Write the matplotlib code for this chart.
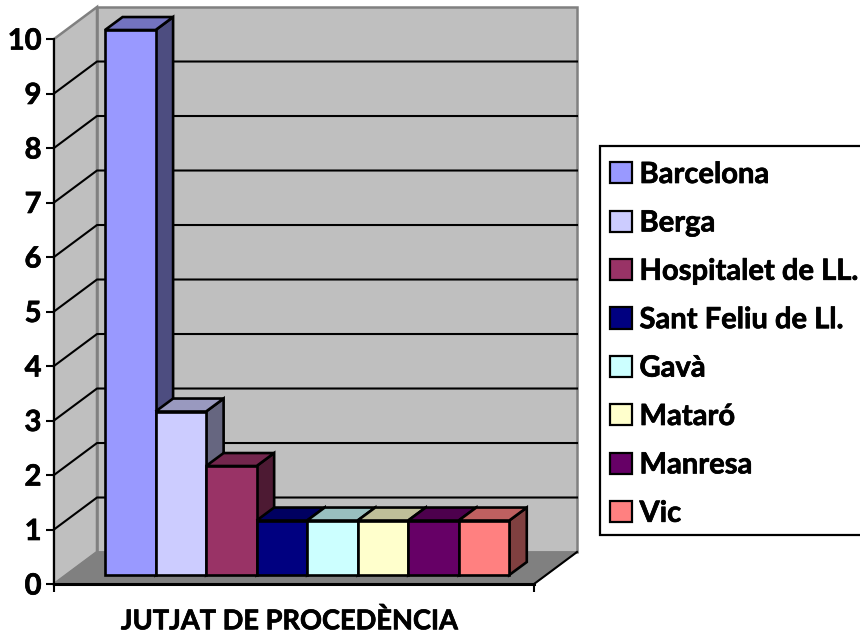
import matplotlib
matplotlib.use('Agg')
import matplotlib.pyplot as plt
import matplotlib.patheffects as pe
from matplotlib.patches import Polygon, Patch, Rectangle

plt.rcParams['font.family'] = ['Lato', 'DejaVu Sans']

courts = ['Barcelona', 'Berga', 'Hospitalet de LL.', 'Sant Feliu de Ll.',
          'Gavà', 'Mataró', 'Manresa', 'Vic']
counts = [10, 3, 2, 1, 1, 1, 1, 1]
colors = ['#9999FF', '#CCCCFF', '#993366', '#000080',
          '#CCFFFF', '#FFFFCC', '#660066', '#FF8080']
y_ticks = list(range(11))

W, H = 860, 636
FONT = 21
TITLE_FONT = 19.6

# oblique depth of the chart box and of the bars, in data units
wall_dx, wall_dy = 0.851, 0.587
bar_dx, bar_dy = 0.347, 0.238
bar_x0, bar_y0 = 1.01, 0.165

# thickens Lato Bold a little towards the reference's heavier look
heavy = [pe.withStroke(linewidth=0.5, foreground='black')]


def shade(color, k):
    rgb = matplotlib.colors.to_rgb(color)
    return tuple(c * k for c in rgb)


fig = plt.figure(figsize=(W / 100, H / 100), dpi=100)
ax = fig.add_axes([54 / W, 1 - 584 / H, 480 / W, 545 / H])
n_slots = 9.5
ax.set_xlim(0, n_slots)
ax.set_ylim(0, 10)
ax.patch.set_visible(False)

# walls and floor
ax.add_patch(Polygon([(wall_dx, wall_dy), (n_slots + wall_dx, wall_dy),
                      (n_slots + wall_dx, 10 + wall_dy), (wall_dx, 10 + wall_dy)],
                     fc='#BFBFBF', ec='#808080', lw=1.8, clip_on=False, zorder=1))
ax.add_patch(Polygon([(0, 0), (wall_dx, wall_dy), (wall_dx, 10 + wall_dy), (0, 10)],
                     fc='#BFBFBF', ec='#808080', lw=1.8, clip_on=False, zorder=1))
ax.add_patch(Polygon([(0, 0), (n_slots, 0), (n_slots + wall_dx, wall_dy), (wall_dx, wall_dy)],
                     fc='#808080', ec='#808080', lw=1, clip_on=False, zorder=1.1))
ax.plot([n_slots, n_slots + wall_dx], [0, wall_dy], color='black', lw=1.5,
        clip_on=False, zorder=1.2)

# gridlines on left and back walls
for v in y_ticks[1:-1]:
    ax.plot([0, wall_dx, n_slots + wall_dx], [v, v + wall_dy, v + wall_dy],
            color='black', lw=1.5, clip_on=False, zorder=1.2)

# bars, left to right so each one covers the side of the previous one
for i, (val, col) in enumerate(zip(counts, colors)):
    x0 = bar_x0 + i
    x1 = x0 + 1
    b = bar_y0
    t = bar_y0 + val
    kw = dict(ec='black', lw=1.9, joinstyle='miter', clip_on=False, zorder=2 + i * 0.01)
    ax.add_patch(Polygon([(x1, b), (x1 + bar_dx, b + bar_dy), (x1 + bar_dx, t + bar_dy), (x1, t)],
                         fc=shade(col, 0.5), **kw))
    ax.add_patch(Polygon([(x0, t), (x1, t), (x1 + bar_dx, t + bar_dy), (x0 + bar_dx, t + bar_dy)],
                         fc=shade(col, 0.75), **kw))
    ax.add_patch(Polygon([(x0, b), (x1, b), (x1, t), (x0, t)], fc=col, **kw))

for s in ['top', 'right']:
    ax.spines[s].set_visible(False)
ax.spines['left'].set_linewidth(1.5)
ax.spines['bottom'].set_linewidth(2.2)
ax.spines['left'].set_zorder(3)
ax.spines['bottom'].set_zorder(3)

ax.set_yticks(y_ticks)
ax.set_xticks([0, n_slots])
ax.set_xticklabels([])
ax.tick_params(axis='both', length=5.5, width=1.5, color='black')
ax.tick_params(axis='y', labelsize=FONT, pad=3.5)
for lab in ax.get_yticklabels():
    lab.set_fontweight('bold')
    lab.set_path_effects(heavy)
xlab = ax.set_xlabel('JUTJAT DE PROCEDÈNCIA', fontsize=TITLE_FONT, fontweight='bold',
                     labelpad=8.5, x=0.491)
xlab.set_path_effects(heavy)

# legend frame runs off the right edge of the picture, as in the reference
fig.add_artist(Rectangle((600 / W, 1 - 535 / H), 300 / W, 389 / H, transform=fig.transFigure,
                         fc='white', ec='black', lw=1.6, clip_on=False))
handles = [Patch(fc=c, ec='black', lw=1.6, label=l) for c, l in zip(colors, courts)]
leg = fig.legend(handles=handles, loc='upper left', bbox_to_anchor=(610 / W, 1 - 162 / H),
                 borderaxespad=0, borderpad=0, frameon=False,
                 prop={'size': FONT, 'weight': 'bold'}, labelspacing=0.768, handlelength=0.74,
                 handleheight=0.74, handletextpad=0.27)
for txt in leg.get_texts():
    txt.set_path_effects(heavy)

fig.savefig('out.png', dpi=100)
